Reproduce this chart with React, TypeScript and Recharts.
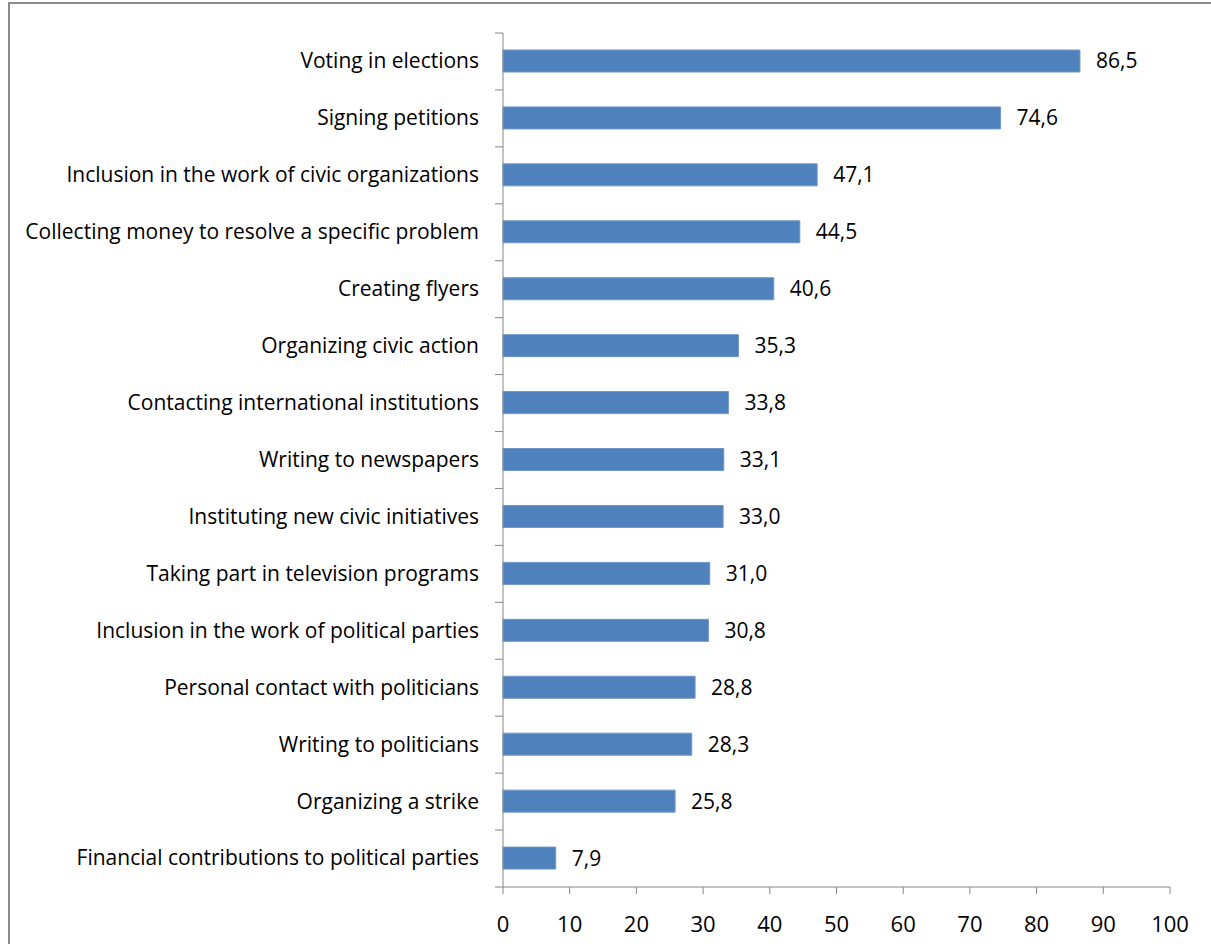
import { BarChart, Bar, XAxis, YAxis, LabelList } from "recharts";

const categories = [
  "Voting in elections",
  "Signing petitions",
  "Inclusion in the work of civic organizations",
  "Collecting money to resolve a specific problem",
  "Creating flyers",
  "Organizing civic action",
  "Contacting international institutions",
  "Writing to newspapers",
  "Instituting new civic initiatives ",
  "Taking part in television programs",
  "Inclusion in the work of political parties",
  "Personal contact with politicians",
  "Writing to politicians",
  "Organizing a strike",
  "Financial contributions to political parties",
];

const shares = [86.5, 74.6, 47.1, 44.5, 40.6, 35.3, 33.8, 33.1, 33.0, 31.0, 30.8, 28.8, 28.3, 25.8, 7.9];

const xTicks = [0, 10, 20, 30, 40, 50, 60, 70, 80, 90, 100];

const data = categories.map((name, i) => ({ name, value: shares[i] }));

const FONT = "'Open Sans', 'DejaVu Sans', sans-serif";
const AXIS = "#868686";
const TICK_SIZE = 8;
const TICK_MARGIN = 16;

const comma = (v: number) => v.toFixed(1).replace(".", ",");

// category ticks: Excel draws tick marks on band edges, not centres
function CategoryTick(props: any) {
  const { x, y, payload, index, visibleTicksCount } = props;
  const half = payload.offset || 28.5;
  const axisX = x + TICK_MARGIN + TICK_SIZE;
  return (
    <g>
      <line x1={axisX - TICK_SIZE} x2={axisX} y1={y - half} y2={y - half} stroke={AXIS} />
      {index === visibleTicksCount - 1 && (
        <line x1={axisX - TICK_SIZE} x2={axisX} y1={y + half} y2={y + half} stroke={AXIS} />
      )}
      <text x={x} y={y} dy="0.33em" textAnchor="end" fill="#000" fontSize={21} fontFamily={FONT}>
        {payload.value}
      </text>
    </g>
  );
}

export default function App() {
  return (
    <div style={{ position: "absolute", left: 8, top: 2, width: 1203, height: 942, overflow: "hidden" }}>
      <div
        style={{
          position: "absolute",
          left: 0,
          top: 0,
          width: 1260,
          height: 1000,
          border: "2px solid #8a8a8a",
          boxSizing: "border-box",
        }}
      />
      <div style={{ position: "absolute", left: 2, top: 2 }}>
        <BarChart
          layout="vertical"
          width={1201}
          height={940}
          data={data}
          margin={{ top: 29, right: 41, left: 0, bottom: 0 }}
        >
          <XAxis
            type="number"
            domain={[0, 100]}
            ticks={xTicks}
            interval={0}
            height={57}
            tickSize={7}
            tickMargin={22}
            axisLine={{ stroke: AXIS }}
            tickLine={{ stroke: AXIS }}
            tick={{ fill: "#000", fontSize: 22, fontFamily: FONT }}
          />
          <YAxis
            type="category"
            dataKey="name"
            width={493}
            interval={0}
            tickSize={TICK_SIZE}
            tickMargin={TICK_MARGIN}
            tickLine={false}
            axisLine={{ stroke: AXIS }}
            tick={<CategoryTick />}
          />
          <Bar dataKey="value" fill="#4F81BD" stroke="#7096c9" barSize={22} isAnimationActive={false}>
            <LabelList
              dataKey="value"
              position="right"
              offset={16}
              formatter={(v: any) => comma(Number(v))}
              fill="#000"
              fontSize={21}
              fontFamily={FONT}
            />
          </Bar>
        </BarChart>
      </div>
    </div>
  );
}
